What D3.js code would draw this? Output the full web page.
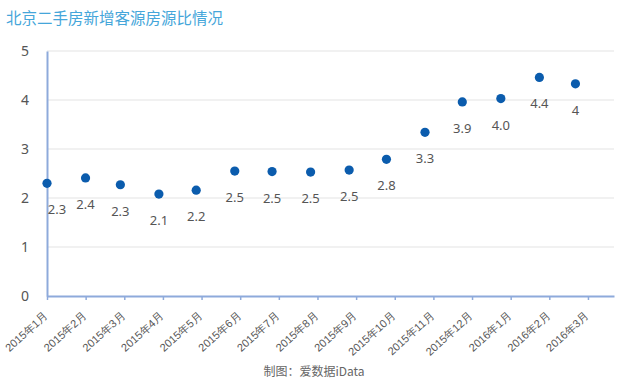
<!DOCTYPE html>
<html>
<head>
<meta charset="utf-8">
<script src="https://cdn.jsdelivr.net/npm/d3@7"></script>
<style>
  body { margin: 0; background: #fff; }
  svg { display: block; font-family: "Noto Sans CJK SC", "Noto Sans", sans-serif; }
</style>
</head>
<body>
<svg id="chart" width="630" height="390"></svg>
<script>
// ---------------------------------------------------------------------------
// Data
// ---------------------------------------------------------------------------
const months = ['2015-01-01', '2015-02-01', '2015-03-01', '2015-04-01', '2015-05-01',
  '2015-06-01', '2015-07-01', '2015-08-01', '2015-09-01', '2015-10-01', '2015-11-01',
  '2015-12-01', '2016-01-01', '2016-02-01', '2016-03-01'];
const ratios = [2.3, 2.41, 2.27, 2.08, 2.16, 2.55, 2.54, 2.53, 2.57, 2.79, 3.34, 3.96, 4.03, 4.46, 4.33];
const valueLabels = ['2.3', '2.4', '2.3', '2.1', '2.2', '2.5', '2.5', '2.5', '2.5', '2.8', '3.3', '3.9', '4.0', '4.4', '4'];
const tickLabels = ['2015年1月', '2015年2月', '2015年3月', '2015年4月', '2015年5月', '2015年6月',
  '2015年7月', '2015年8月', '2015年9月', '2015年10月', '2015年11月', '2015年12月',
  '2016年1月', '2016年2月', '2016年3月'];
const yTicks = [0, 1, 2, 3, 4, 5];

const title = '北京二手房新增客源房源比情况';
const source = '制图：爱数据iData';

// ---------------------------------------------------------------------------
// Layout
// ---------------------------------------------------------------------------
const m = { left: 47, right: 614, top: 51, bottom: 296 };
const svg = d3.select('#chart');

const parse = d3.timeParse('%Y-%m-%d');
const x = d3.scaleTime()
  .domain([parse('2015-01-01'), parse('2016-04-01')])
  .range([m.left, m.right]);
// category ticks are evenly spaced, slightly wider than a month on the time axis
const xTick = d3.scaleLinear().domain([0, 14.674]).range([m.left, m.right]);
const y = d3.scaleLinear().domain([0, 5]).range([m.bottom, m.top]);

// title
svg.append('text')
  .attr('x', 6).attr('y', 24)
  .attr('font-size', 15.5).attr('fill', '#45a6da')
  .text(title);

// gridlines
svg.append('g')
  .selectAll('line')
  .data(yTicks.filter(d => d > 0))
  .join('line')
  .attr('x1', m.left).attr('x2', m.right)
  .attr('y1', d => y(d)).attr('y2', d => y(d))
  .attr('stroke', '#e3e3e3').attr('stroke-width', 1);

// y axis
const yAx = svg.append('g')
  .attr('transform', `translate(${m.left},0)`)
  .call(d3.axisLeft(y).tickValues(yTicks).tickSize(0).tickPadding(18).tickFormat(d3.format('d')));
yAx.select('.domain').attr('stroke', '#8eaadb').attr('stroke-width', 2);
yAx.selectAll('text').attr('font-size', 14).attr('fill', '#555')
  .attr('font-family', '"Noto Sans", sans-serif');

// x axis
const xAx = svg.append('g')
  .attr('transform', `translate(0,${m.bottom})`)
  .call(d3.axisBottom(xTick).tickValues(d3.range(tickLabels.length)).tickSize(4)
    .tickSizeOuter(0).tickFormat(i => tickLabels[i]));
xAx.select('.domain').attr('stroke', '#8eaadb').attr('stroke-width', 2);
xAx.selectAll('.tick line').attr('stroke', '#8eaadb').attr('stroke-width', 1.5);
xAx.selectAll('text')
  .attr('font-size', 11).attr('fill', '#555')
  .attr('text-anchor', 'end')
  .attr('dy', null).attr('y', 0)
  .attr('transform', 'translate(1,21) rotate(-42)');

// points
svg.append('g')
  .selectAll('circle')
  .data(ratios)
  .join('circle')
  .attr('cx', (d, i) => x(parse(months[i])))
  .attr('cy', d => y(d))
  .attr('r', 4.6)
  .attr('fill', '#0b5cad');

// value labels
svg.append('g')
  .selectAll('text')
  .data(ratios)
  .join('text')
  .attr('x', (d, i) => x(parse(months[i])) + (i === 0 ? 10 : 0))
  .attr('y', d => y(d) + 31)
  .attr('text-anchor', 'middle')
  .attr('font-size', 13).attr('fill', '#555')
  .attr('font-family', '"Noto Sans", sans-serif')
  .text((d, i) => valueLabels[i]);

// source
svg.append('text')
  .attr('x', 314).attr('y', 376)
  .attr('text-anchor', 'middle')
  .attr('font-size', 12).attr('fill', '#666')
  .text(source);
</script>
</body>
</html>
